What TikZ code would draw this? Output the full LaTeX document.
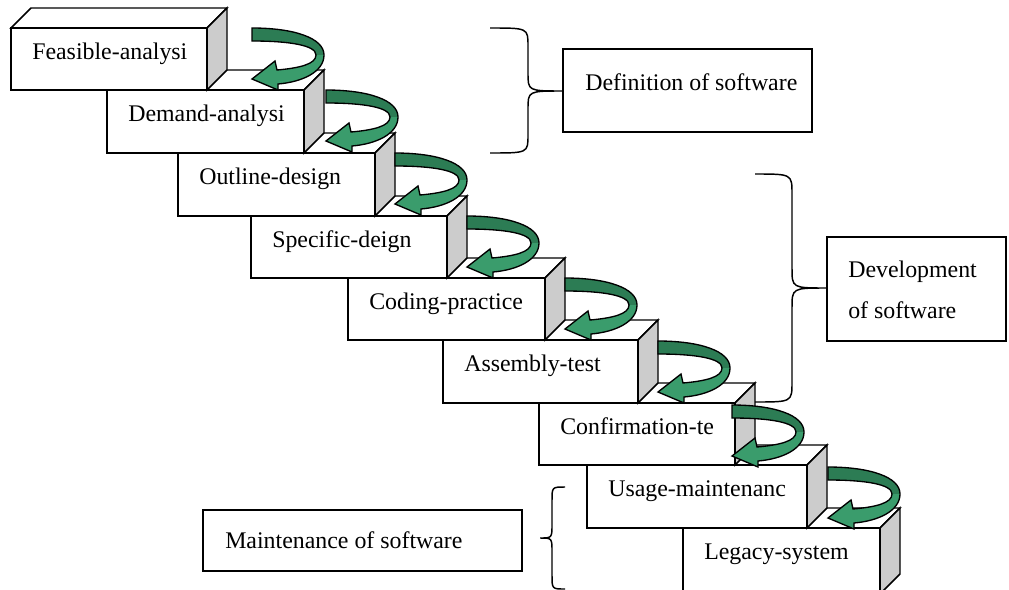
\documentclass[tikz,border=0pt]{standalone}
\usepackage{fontspec}
\setmainfont{Liberation Serif}
\definecolor{sidegray}{RGB}{204,204,204}
\definecolor{greendark}{RGB}{44,124,84}
\definecolor{greenlight}{RGB}{58,156,108}
\tikzset{
  face/.style={draw=black, line width=1.1pt, line join=miter},
  lbl/.style={inner sep=0pt, font=\fontsize{17.9}{21}\selectfont},
  infobox/.style={draw=black, line width=1.1pt, fill=white},
  bracepath/.style={draw=black, line width=1.1pt},
  arrowline/.style={draw=black, line width=1pt, line join=miter}
}
% box: name, left, top, right, bottom, label
\newcommand\stairbox[6]{%
  \path[face, fill=white] (#2,#3) -- ({#2+20},{#3-20}) -- ({#4+20},{#3-20}) -- (#4,#3) -- cycle;
  \path[face, fill=sidegray] (#4,#3) -- ({#4+20},{#3-20}) -- ({#4+20},{#5-20}) -- (#4,#5) -- cycle;
  \path[face, fill=white] (#2,#3) rectangle (#4,#5);
  \node[lbl, anchor=base west] (#1) at ({#2+21},{#3+31}) {#6};
}
% curved green arrow starting at (sx,sy)
\newcommand\turnarrow[2]{%
  \begin{scope}[shift={(#1,#2)}]
    \fill[greendark] (0,0) .. controls (42,0) and (72,10) .. (72,27) -- (64,27) .. controls (64,17) and (36,13) .. (0,13) -- cycle;
    \fill[greenlight] (72,27) .. controls (72,44) and (50,54) .. (26,56) -- (26,62) -- (0,51) -- (23,33) -- (25,42) .. controls (48,40) and (64,36) .. (64,27) -- cycle;
    \path[arrowline] (0,0) .. controls (42,0) and (72,10) .. (72,27) .. controls (72,44) and (50,54) .. (26,56) -- (26,62) -- (0,51) -- (23,33) -- (25,42) .. controls (48,40) and (64,36) .. (64,27) .. controls (64,17) and (36,13) .. (0,13) -- cycle;
  \end{scope}
}
% brace: xe (ends), xs (spine), xt (tip), ye1, ym, ye2, r
\newcommand\mybrace[7]{%
  \path[bracepath] (#1,#4) .. controls (#2,#4) .. (#2,{#4+#7}) -- (#2,{#5-#7}) .. controls (#2,#5) .. (#3,#5)
     .. controls (#2,#5) .. (#2,{#5+#7}) -- (#2,{#6-#7}) .. controls (#2,#6) .. (#1,#6);
}
\begin{document}
\begin{tikzpicture}[x=0.75pt, y=-0.75pt]
\useasboundingbox (0,0) rectangle (1009,589);
\clip (0,0) rectangle (1009,589);
% steps, drawn from last to first
\stairbox{s9}{683}{528}{880}{594}{Legacy-system}
\stairbox{s8}{587}{465}{807}{528}{Usage-maintenanc}
\stairbox{s7}{539}{403}{735}{465}{Confirmation-te}
\stairbox{s6}{443}{340}{638}{403}{Assembly-test}
\stairbox{s5}{348}{278}{545}{340}{Coding-practice}
\stairbox{s4}{251}{216}{447}{278}{Specific-deign}
\stairbox{s3}{178}{153}{375}{216}{Outline-design}
\stairbox{s2}{107}{90}{304}{153}{Demand-analysi}
\stairbox{s1}{11}{28}{207}{90}{Feasible-analysi}
% green turning arrows
\turnarrow{252}{28}
\turnarrow{326}{90}
\turnarrow{395}{153}
\turnarrow{467}{216}
\turnarrow{565}{278}
\turnarrow{658}{341}
\turnarrow{732}{405}
\turnarrow{828}{467}
% phase boxes
\path[infobox] (563,49) rectangle (812,132);
\node[lbl, anchor=base west] (def) at (585,90) {Definition of software};
\path[infobox] (827,237) rectangle (1006,341);
\node[lbl, anchor=base west] (dev1) at (848,277) {Development};
\node[lbl, anchor=base west] (dev2) at (848,318) {of software};
\path[infobox] (203,510) rectangle (522,571);
\node[lbl, anchor=base west] (mnt) at (225,548) {Maintenance of software};
% braces
\mybrace{490}{528}{563}{28}{91}{153}{18}
\mybrace{755}{792}{827}{174}{288}{402}{20}
\mybrace{565}{552}{540}{487}{538}{589}{14}
\end{tikzpicture}
\end{document}
